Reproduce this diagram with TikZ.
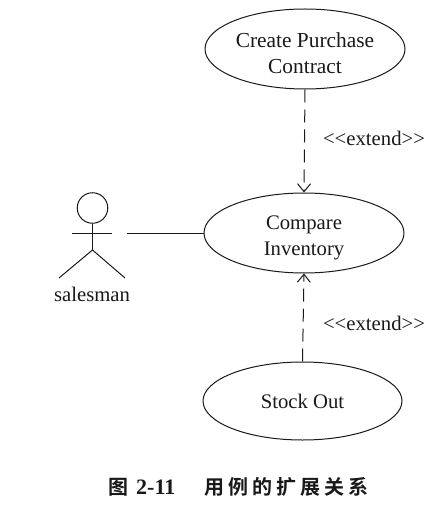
\documentclass[tikz,border=0pt]{standalone}
\usepackage{fontspec}
\setmainfont{Liberation Serif}
\newfontfamily\cjkcap[BoldFont={Noto Sans CJK SC Bold},LetterSpace=20]{Noto Sans CJK SC}
\newfontfamily\capnum[LetterSpace=0]{Liberation Serif}
\usetikzlibrary{arrows.meta,shapes.geometric}
\definecolor{ink}{gray}{0.1}
\newcommand{\lowered}[2]{\raisebox{-#1}[\height][\depth]{\begin{tabular}{@{}c@{}}#2\end{tabular}}}
\tikzset{
  usecase/.style={ellipse,draw=ink,line width=1pt,inner sep=0pt,minimum width=200pt,minimum height=80pt,align=center,text=ink,font=\fontsize{20.7}{26}\selectfont},
  plainlabel/.style={inner sep=0pt,text=ink,font=\fontsize{20.7}{26}\selectfont},
  limb/.style={draw=ink,line width=1pt},
  extendarrow/.style={draw=ink,line width=1pt,dash pattern=on 13pt off 7pt,-{Straight Barb[length=8pt,width=13pt,line width=1pt]}}
}
\begin{document}
\begin{tikzpicture}[x=1pt,y=-1pt]
\useasboundingbox (0,0) rectangle (439,505);
\node[usecase] (create) at (305,49) {\lowered{6.5pt}{\fontsize{21.4}{26}\selectfont Create Purchase\\\fontsize{21.4}{26}\selectfont Contract}};
\node[usecase] (compare) at (304,233) {\lowered{4.5pt}{Compare\\Inventory}};
\node[usecase,minimum width=199pt,minimum height=78pt] (stock) at (302.5,401) {Stock Out};
\node[plainlabel] (ext1) at (374,138) {<{}<{}extend>{}>};
\node[plainlabel] (ext2) at (374,323) {<{}<{}extend>{}>};
\draw[extendarrow] (create.south) -- (compare.north);
\draw[extendarrow] (stock.north) -- (compare.south);
% actor
\node[circle,draw=ink,line width=1pt,minimum size=30.5pt,inner sep=0pt] (head) at (92.5,208) {};
\coordinate (hip) at (92.5,250);
\coordinate (armL) at (72,233);
\coordinate (armR) at (112,233);
\coordinate (footL) at (59,278);
\coordinate (footR) at (125,278);
\coordinate (assocEnd) at (126.5,233);
\draw[limb] (head.south) -- (hip);
\draw[limb] (armL) -- (armR);
\draw[limb] (footL) -- (hip) -- (footR);
\draw[limb] (assocEnd) -- (compare.west);
\node[plainlabel] (salesman) at (92,294) {salesman};
% caption
\node[inner sep=0pt,anchor=west,text=ink] (caption) at (108,487) {\fontsize{20}{20}\selectfont\cjkcap\bfseries 图\hspace{8pt}{\capnum\fontsize{22}{20}\selectfont 2-11}\hspace{29pt}用例的扩展关系};
\end{tikzpicture}
\end{document}
